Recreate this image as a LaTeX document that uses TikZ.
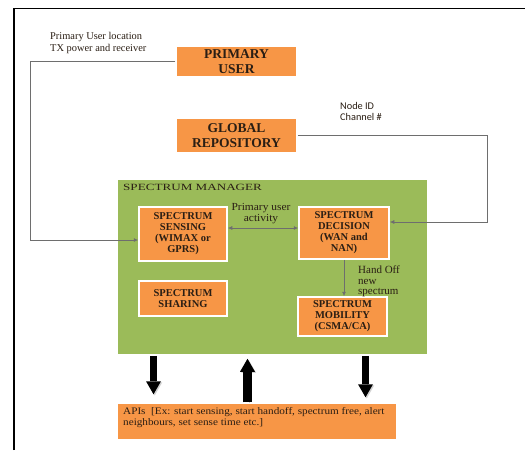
\documentclass[tikz,border=0pt]{standalone}
\usepackage{fontspec}
\setmainfont{Liberation Serif}
\newfontfamily\serfont{Liberation Serif}
\newfontfamily\calfont{Carlito}
\newfontfamily\smfont[FakeStretch=1.38]{Liberation Serif}
\newfontfamily\apifont[FakeStretch=1.12]{Liberation Serif}
\newfontfamily\widefont[FakeStretch=1.06]{Liberation Serif}
\usetikzlibrary{arrows.meta,shadows,calc}
\definecolor{boxorange}{HTML}{F79646}
\definecolor{boxgreen}{HTML}{9BBB59}
\definecolor{inktext}{HTML}{2A1E14}
\definecolor{linegray}{HTML}{6E6E6E}
\begin{document}
\begin{tikzpicture}[x=1pt,y=-1pt,
  orangebox/.style={fill=boxorange, draw=white, line width=1.5pt,
    drop shadow={shadow xshift=1.2pt,shadow yshift=-1.2pt,fill=black!22},
    inner sep=0pt, align=center, text=inktext,
    font=\serfont\bfseries\fontsize{10.5}{11}\selectfont},
  bigbox/.style={orangebox, font=\serfont\bfseries\fontsize{13.5}{15}\selectfont},
  greenbox/.style={fill=boxgreen, draw=white, line width=1.5pt,
    drop shadow={shadow xshift=1.2pt,shadow yshift=-1.2pt,fill=black!22},
    inner sep=0pt},
  conn/.style={draw=linegray, line width=0.8pt, -{Latex[length=4.5pt,width=4pt]}},
  blockarrow/.style={draw=black, line width=7pt,
    -{Triangle[width=15pt,length=13pt,line width=0pt]},
    preaction={draw=black!18, transform canvas={xshift=1.2pt,yshift=-1.2pt}}},
  label/.style={text=inktext, inner sep=0pt, font=\serfont\fontsize{10}{12}\selectfont}
]
\useasboundingbox (0,0) rectangle (525,450);
\fill[white] (0,0) rectangle (525,450);
% page frame
\draw[line width=1.3pt] (14,450) -- (14,8.5) -- (525,8.5);

% boxes
\node[bigbox, minimum width=121pt, minimum height=31pt] (pu) at (236.5,61.5) {PRIMARY\\USER};
\node[bigbox, minimum width=121pt, minimum height=35pt] (gr) at (236.5,135.5) {GLOBAL\\REPOSITORY};
\node[greenbox, minimum width=311pt, minimum height=176pt] (sm) at (272.5,267) {};
\node[label, anchor=west, font=\smfont\fontsize{9.5}{11}\selectfont] (smlabel) at (123,187) {SPECTRUM MANAGER};
\node[orangebox, minimum width=88pt, minimum height=54pt] (sens) at (183,234) {SPECTRUM\\SENSING\\(WIMAX or\\GPRS)};
\node[orangebox, minimum width=90pt, minimum height=52pt] (dec) at (344,233) {SPECTRUM\\DECISION\\(WAN and\\NAN)};
\node[orangebox, minimum width=88pt, minimum height=35pt] (shar) at (183,298.5) {SPECTRUM\\SHARING};
\node[orangebox, minimum width=89pt, minimum height=39pt] (mob) at (342.5,316.5) {SPECTRUM\\MOBILITY\\(CSMA/CA)};
\node[orangebox, minimum width=280pt, minimum height=37pt] (api) at (257,421.5) {};
\node[label, anchor=north west, align=left, font=\apifont\fontsize{10}{11}\selectfont] (apitext) at (123,407)
  {APIs~~[Ex: start sensing, start handoff, spectrum free, alert\\neighbours, set sense time etc.]};

% labels
\node[label, anchor=west, align=left, font=\serfont\fontsize{10.4}{12}\selectfont] (putext) at (50,43) {Primary User location\\TX power and receiver};
\node[label, anchor=west, align=left, font=\calfont\fontsize{10.3}{11}\selectfont] (nodeid) at (340,111.5) {Node ID\\Channel \#};
\node[label, align=center, font=\widefont\fontsize{10.8}{11}\selectfont] (pua) at (261,213.5) {Primary user\\activity};
\node[label, anchor=west, align=left, font=\serfont\fontsize{11}{10.5}\selectfont] (hand) at (358,281.5) {Hand Off\\new\\spectrum};

% connectors
\coordinate (leftrail) at (30.5,240);
\coordinate (rightrail) at (487.5,222);
\draw[conn] (pu.west) -| (leftrail) |- ([yshift=-6pt]sens.west);
\draw[conn] (gr.east) -| (rightrail) |- ([yshift=11pt]dec.east);
\draw[conn, {Latex[length=4.5pt,width=4pt]}-{Latex[length=4.5pt,width=4pt]}]
  ([yshift=6pt]sens.east) -- ([yshift=6pt]sens.east -| dec.west);
\draw[conn] (dec.south) -- (dec.south |- mob.north);

% block arrows
\coordinate (xa) at (153.5,0);
\coordinate (xb) at (247.5,0);
\coordinate (xc) at (365.5,0);
\draw[blockarrow] (xa |- sm.south) -- ([yshift=8pt]xa |- api.north);
\draw[blockarrow, line width=8.5pt] (xb |- api.north) -- ([yshift=-3pt]xb |- sm.south);
\draw[blockarrow] (xc |- sm.south) -- ([yshift=5pt]xc |- api.north);
\end{tikzpicture}
\end{document}
